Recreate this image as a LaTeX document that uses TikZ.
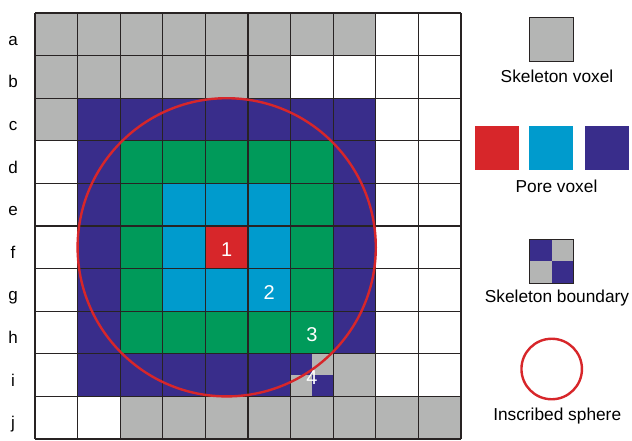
\documentclass[tikz,border=0pt]{standalone}
\usepackage{fontspec}
\setmainfont{Liberation Sans}
\usepackage{tikz}
\usetikzlibrary{positioning}

\definecolor{skgray}{HTML}{B4B5B4}
\definecolor{porenavy}{HTML}{392D8B}
\definecolor{poregreen}{HTML}{009A5A}
\definecolor{porecyan}{HTML}{009BCD}
\definecolor{porered}{HTML}{D7262A}
\definecolor{gridc}{HTML}{282323}

\begin{document}
\begin{tikzpicture}[x=1pt,y=-1pt,
    gridln/.style={draw=gridc,line width=1.1pt},
    sphere/.style={draw=porered,line width=2.4pt},
    rowlbl/.style={anchor=base,inner sep=0pt,font=\fontsize{17}{20}\selectfont},
    num/.style={text=white,inner sep=0pt,yshift=-2.5pt,font=\fontsize{20}{24}\selectfont},
    legsq/.style={minimum size=44pt,inner sep=0pt,outer sep=0pt},
    legtext/.style={inner sep=0pt,xshift=5.5pt,font=\fontsize{17.3}{20}\selectfont}
  ]
  \useasboundingbox (0,0) rectangle (632,440);

  % voxel grid, one unit = one voxel
  \begin{scope}[xshift=35pt,yshift=-13pt,x=42.6pt,y=-42.6pt]
    \fill[skgray] (0,0) rectangle (8,1);
    \fill[skgray] (0,1) rectangle (6,2);
    \fill[skgray] (0,2) rectangle (1,3);
    \fill[porenavy] (1,2) rectangle (8,8);
    \fill[porenavy] (1,8) rectangle (6,9);
    \fill[poregreen] (2,3) rectangle (7,8);
    \fill[porecyan] (3,4) rectangle (6,7);
    \fill[porered] (4,5) rectangle (5,6);
    % mixed voxel on the skeleton boundary
    \fill[porenavy] (6,8) rectangle (6.5,8.5);
    \fill[skgray] (6.5,8) rectangle (7,8.5);
    \fill[skgray] (6,8.5) rectangle (6.5,9);
    \fill[porenavy] (6.5,8.5) rectangle (7,9);
    \fill[skgray] (7,8) rectangle (8,9);
    \fill[skgray] (2,9) rectangle (10,10);
    \foreach \i in {0,...,10} {
      \draw[gridln] (\i,0) -- (\i,10);
      \draw[gridln] (0,\i) -- (10,\i);
    }
    \foreach \l [count=\r from 0] in {a,...,j}
      \node[rowlbl] (row-\l) at (-0.516,\r+0.76) {\l};
    \draw[sphere] (4.5,5.5) circle[radius=3.5];
    \node[num] (n1) at (4.5,5.5) {1};
    \node[num] (n2) at (5.5,6.5) {2};
    \node[num] (n3) at (6.5,7.5) {3};
    \node[num] (n4) at (6.5,8.5) {4};
  \end{scope}

  % legend
  \node[legsq,fill=skgray,draw=gridc,line width=0.9pt] (skvox) at (551.5,39) {};
  \node[legtext,below=9pt of skvox] (skvoxtxt) {Skeleton voxel};

  \node[legsq,fill=porecyan] (pcyan) at (551,147.5) {};
  \node[legsq,fill=porered,left=10.5pt of pcyan] (pred) {};
  \node[legsq,fill=porenavy,right=12pt of pcyan] (pnavy) {};
  \node[legtext,below=10pt of pcyan] (poretxt) {Pore voxel};

  \node[legsq,fill=skgray] (skbd) at (551.5,261) {};
  \fill[porenavy] (skbd.north west) rectangle (skbd.center);
  \fill[porenavy] (skbd.center) rectangle (skbd.south east);
  \draw[gridc,line width=0.9pt] (skbd.north west) rectangle (skbd.south east);
  \node[legtext,below=7pt of skbd] (skbdtxt) {Skeleton boundary};

  \node[sphere,circle,minimum size=60.5pt,inner sep=0pt] (insph) at (551.7,369) {};
  \node[legtext,below=7.5pt of insph] (insphtxt) {Inscribed sphere};
\end{tikzpicture}
\end{document}
